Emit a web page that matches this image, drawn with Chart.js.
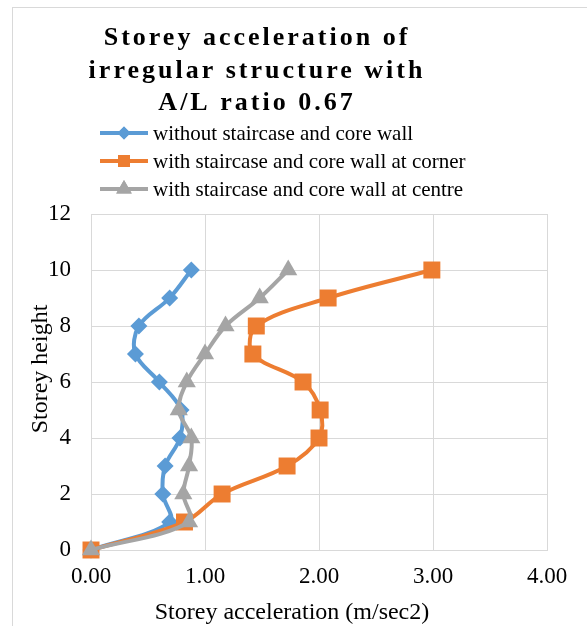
<!DOCTYPE html>
<html>
<head>
<meta charset="utf-8">
<script src="https://cdn.jsdelivr.net/npm/chart.js@4/dist/chart.umd.min.js"></script>
<style>
  html, body { margin: 0; padding: 0; background: #fff; }
  #wrap { width: 587px; height: 626px; position: relative; }
</style>
</head>
<body>
<div id="wrap"><canvas id="myChart" width="587" height="626"></canvas></div>
<script>
/* data */
const storeys = [0, 1, 2, 3, 4, 5, 6, 7, 8, 9, 10];
const withoutCore = [0, 0.69, 0.63, 0.65, 0.78, 0.79, 0.60, 0.39, 0.42, 0.69, 0.88];
const coreAtCorner = [0, 0.82, 1.15, 1.72, 2.00, 2.01, 1.86, 1.42, 1.45, 2.08, 2.99];
const coreAtCentre = [0, 0.86, 0.81, 0.86, 0.88, 0.77, 0.84, 1.00, 1.18, 1.48, 1.73];
const seriesNames = [
  'without staircase and core wall',
  'with staircase and core wall at corner',
  'with staircase and core wall at centre'
];
const xTicks = [0, 1, 2, 3, 4];
const yTicks = [0, 2, 4, 6, 8, 10, 12];

const titleLines = ['Storey acceleration of', 'irregular structure with', 'A/L ratio 0.67'];
const xTitle = 'Storey acceleration (m/sec2)';
const yTitle = 'Storey height';

const colors = ['#5B9BD5', '#ED7D31', '#A5A5A5'];
const styles = ['rectRot', 'rect', 'triangle'];
const radii = [8.5, 12, 10.5];

const toPoints = vals => vals.map((v, i) => ({ x: v, y: storeys[i] }));

/* text drawn around the plot */
const decor = {
  id: 'decor',
  beforeDraw(chart) {
    const c = chart.ctx;
    c.save();
    c.fillStyle = '#fff';
    c.fillRect(0, 0, chart.width, chart.height);
    c.strokeStyle = '#D9D9D9';
    c.lineWidth = 1;
    c.strokeRect(12.5, 7.5, 700, 700);
    c.restore();
  },
  afterDraw(chart) {
    const c = chart.ctx;
    c.save();
    // title
    c.fillStyle = '#000';
    c.textAlign = 'center';
    c.textBaseline = 'alphabetic';
    c.font = 'bold 26px "Liberation Serif"';
    c.letterSpacing = '3px';
    titleLines.forEach((t, i) => c.fillText(t, 257, 45 + i * 32.5));
    c.letterSpacing = '0px';

    // legend
    c.font = '21px "Liberation Serif"';
    c.textAlign = 'left';
    seriesNames.forEach((name, i) => {
      const y = 133 + i * 28;
      c.strokeStyle = colors[i];
      c.lineWidth = 4;
      c.beginPath();
      c.moveTo(100, y);
      c.lineTo(148, y);
      c.stroke();
      c.fillStyle = colors[i];
      Chart.helpers.drawPoint(c, { pointStyle: styles[i], radius: [6.5, 8.5, 9][i], borderWidth: 0 }, 124, y);
      c.fill();
      c.fillStyle = '#000';
      c.fillText(name, 153, y + 7);
    });

    // axis titles
    c.font = '24px "Liberation Serif"';
    c.textAlign = 'center';
    c.fillText(xTitle, 292, 619);
    c.translate(47, 369);
    c.rotate(-Math.PI / 2);
    c.fillText(yTitle, 0, 0);
    c.restore();
  }
};

const ctx = document.getElementById('myChart');

new Chart(ctx, {
  type: 'scatter',
  data: {
    datasets: [withoutCore, coreAtCorner, coreAtCentre].map((vals, i) => ({
      label: seriesNames[i],
      data: toPoints(vals),
      showLine: true,
      tension: 0.35,
      borderColor: colors[i],
      backgroundColor: colors[i],
      borderWidth: 4,
      pointStyle: styles[i],
      pointRadius: radii[i],
      pointBorderWidth: 0,
      pointBackgroundColor: colors[i],
      clip: false,
      order: 2 - i
    }))
  },
  options: {
    responsive: false,
    animation: false,
    events: [],
    layout: { padding: { top: 214, right: 40, left: 0, bottom: 0 } },
    plugins: {
      legend: { display: false },
      title: { display: false },
      tooltip: { enabled: false }
    },
    scales: {
      x: {
        type: 'linear',
        min: 0,
        max: 4,
        afterBuildTicks: s => { s.ticks = xTicks.map(v => ({ value: v })); },
        afterFit: s => { s.height = 76; },
        grid: { color: '#D9D9D9', lineWidth: 1, drawTicks: false },
        border: { color: '#D9D9D9' },
        ticks: {
          padding: 13,
          color: '#000',
          font: { family: 'Liberation Serif', size: 23 },
          callback: v => v.toFixed(2)
        }
      },
      y: {
        type: 'linear',
        min: 0,
        max: 12,
        afterBuildTicks: s => { s.ticks = yTicks.map(v => ({ value: v })); },
        afterFit: s => { s.width = 91; },
        grid: { color: '#D9D9D9', lineWidth: 1, drawTicks: false },
        border: { color: '#D9D9D9' },
        ticks: {
          padding: 20,
          color: '#000',
          font: { family: 'Liberation Serif', size: 23 }
        }
      }
    }
  },
  plugins: [decor]
});
</script>
</body>
</html>
